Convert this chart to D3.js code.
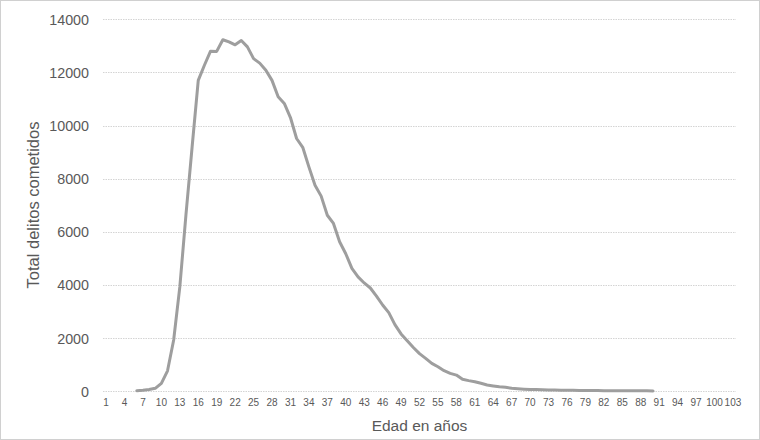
<!DOCTYPE html>
<html>
<head>
<meta charset="utf-8">
<script src="https://cdn.jsdelivr.net/npm/d3@7"></script>
<style>
  html, body { margin: 0; padding: 0; background: #ffffff; }
  svg { display: block; }
</style>
</head>
<body>
<svg id="chart" width="760" height="440"></svg>
<script>
// ---- data ----
const categories = d3.range(1, 104);            // Excel category axis 1..103
const ages = d3.range(6, 91);                   // ages with data
const delitos = [
  10, 30, 60, 100, 290, 760, 1920, 3920, 6640, 9190,           // 6-15
  11700, 12270, 12800, 12790, 13230, 13150, 13040, 13200, 12960, 12520, // 16-25
  12350, 12080, 11700, 11080, 10830, 10300, 9510, 9180, 8440, 7750,     // 26-35
  7340, 6620, 6310, 5620, 5170, 4620, 4300, 4070, 3880, 3575,           // 36-45
  3240, 2950, 2500, 2150, 1890, 1640, 1410, 1230, 1040, 915,            // 46-55
  765, 665, 600, 440, 390, 350, 290, 225, 190, 160,                     // 56-65
  140, 100, 85, 70, 60, 55, 45, 40, 35, 30,                             // 66-75
  28, 25, 22, 20, 18, 16, 14, 12, 10, 9,                                // 76-85
  8, 7, 6, 5, 4                                                         // 86-90
];
const yTicks = [0, 2000, 4000, 6000, 8000, 10000, 12000, 14000];
const xTickLabels = categories.filter(c => (c - 1) % 3 === 0);
const yTitle = "Total delitos cometidos";
const xTitle = "Edad en años";

// ---- layout ----
const W = 760, H = 440;
const plotLeft = 103, plotRight = 736, plotTop = 19.3, plotBottom = 391;
const svg = d3.select("#chart");
const font = "'Liberation Sans', Arial, sans-serif";

// outer border
svg.append("rect")
  .attr("x", 0.5).attr("y", 0.5).attr("width", W - 1).attr("height", H - 1)
  .attr("fill", "#ffffff").attr("stroke", "#d0d0d0").attr("stroke-width", 1);

const x = d3.scaleBand().domain(categories).range([plotLeft, plotRight]).padding(0);
const y = d3.scaleLinear().domain([0, 14000]).range([plotBottom, plotTop]);

// gridlines
svg.append("g").selectAll("line").data(yTicks).join("line")
  .attr("x1", plotLeft).attr("x2", plotRight)
  .attr("y1", d => Math.round(y(d)) + 0.5).attr("y2", d => Math.round(y(d)) + 0.5)
  .attr("stroke", "#d4d4d4").attr("stroke-width", 1)
  .attr("stroke-dasharray", "1.5,1");

// y axis labels
const yAxis = d3.axisLeft(y).tickValues(yTicks).tickSize(0).tickPadding(0).tickFormat(d3.format("d"));
const gy = svg.append("g").attr("transform", `translate(${plotLeft - 14},0)`).call(yAxis);
gy.select(".domain").remove();
gy.selectAll("text").attr("font-family", font).attr("font-size", 14.3).attr("fill", "#595959")
  .attr("dy", "0.36em");

// x axis labels
const xAxis = d3.axisBottom(x).tickValues(xTickLabels).tickSize(0).tickPadding(0);
const gx = svg.append("g").attr("transform", `translate(0,${plotBottom + 8})`).call(xAxis);
gx.select(".domain").remove();
gx.selectAll("text").attr("font-family", font).attr("font-size", 10).attr("fill", "#595959")
  .attr("dy", "0.71em");

// line
const pts = ages.map((a, i) => ({ a, v: delitos[i] }));
const line = d3.line()
  .x(d => x(d.a) + x.bandwidth() / 2)
  .y(d => y(d.v));
svg.append("path").datum(pts)
  .attr("d", line)
  .attr("fill", "none")
  .attr("stroke", "#9e9e9e")
  .attr("stroke-width", 3)
  .attr("stroke-linejoin", "round")
  .attr("stroke-linecap", "round");

// axis titles
svg.append("text")
  .attr("transform", `translate(39,205) rotate(-90)`)
  .attr("text-anchor", "middle")
  .attr("font-family", font).attr("font-size", 16.5).attr("fill", "#595959")
  .text(yTitle);

svg.append("text")
  .attr("x", (plotLeft + plotRight) / 2).attr("y", 431)
  .attr("text-anchor", "middle")
  .attr("font-family", font).attr("font-size", 15.5).attr("fill", "#595959")
  .text(xTitle);
</script>
</body>
</html>
